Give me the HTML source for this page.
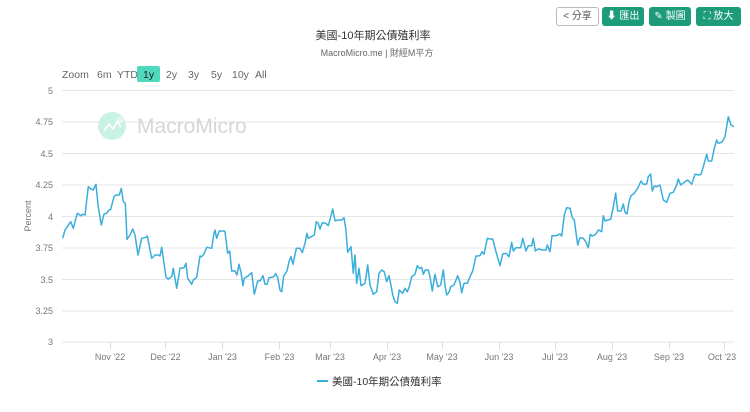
<!DOCTYPE html>
<html><head><meta charset="utf-8">
<style>
html,body{margin:0;padding:0;background:#fff;}
body{width:750px;height:412px;overflow:hidden;position:relative;font-family:"Liberation Sans","Noto Sans CJK TC",sans-serif;}
.btn{position:absolute;top:7px;height:19px;border-radius:3px;font-size:10px;line-height:19px;text-align:center;box-sizing:border-box;color:#fff;background:#1d9b7b;}
.btn.w{background:#fff;border:1px solid #bbb;color:#555;line-height:17px;}
</style></head><body>
<div class="btn w" style="left:556px;width:43px;">&lt; 分享</div>
<div class="btn" style="left:602px;width:42px;">⬇ 匯出</div>
<div class="btn" style="left:649px;width:42px;">✎ 製圖</div>
<div class="btn" style="left:696px;width:45px;">⛶ 放大</div>
<svg width="750" height="412" style="position:absolute;left:0;top:0" xmlns="http://www.w3.org/2000/svg" font-family="Liberation Sans, Noto Sans CJK TC, sans-serif">
<text x="373" y="39" text-anchor="middle" font-size="11" fill="#333">美國-10年期公債殖利率</text>
<text x="377" y="56" text-anchor="middle" font-size="9" fill="#666">MacroMicro.me | 財經M平方</text>
<rect x="137" y="66" width="23" height="16" rx="2" fill="#4fd9bd"/>
<g font-size="10.5" fill="#666">
<text x="62" y="78">Zoom</text>
<text x="97" y="78">6m</text>
<text x="117" y="78">YTD</text>
<text x="143" y="78" fill="#222">1y</text>
<text x="166" y="78">2y</text>
<text x="188" y="78">3y</text>
<text x="211" y="78">5y</text>
<text x="232" y="78">10y</text>
<text x="255" y="78">All</text>
</g>
<g stroke="#e6e6e6" stroke-width="1">
<line x1="62" x2="734" y1="90.5" y2="90.5"/>
<line x1="62" x2="734" y1="122" y2="122"/>
<line x1="62" x2="734" y1="153.5" y2="153.5"/>
<line x1="62" x2="734" y1="185" y2="185"/>
<line x1="62" x2="734" y1="216.5" y2="216.5"/>
<line x1="62" x2="734" y1="248" y2="248"/>
<line x1="62" x2="734" y1="279.5" y2="279.5"/>
<line x1="62" x2="734" y1="311" y2="311"/>
<line x1="62" x2="734" y1="342" y2="342"/>
</g>
<g stroke="#ddd" stroke-width="1">
<line x1="110.5" x2="110.5" y1="342" y2="349"/>
<line x1="165.5" x2="165.5" y1="342" y2="349"/>
<line x1="222.5" x2="222.5" y1="342" y2="349"/>
<line x1="279.5" x2="279.5" y1="342" y2="349"/>
<line x1="330.5" x2="330.5" y1="342" y2="349"/>
<line x1="387.5" x2="387.5" y1="342" y2="349"/>
<line x1="442.5" x2="442.5" y1="342" y2="349"/>
<line x1="499.5" x2="499.5" y1="342" y2="349"/>
<line x1="555.5" x2="555.5" y1="342" y2="349"/>
<line x1="612.5" x2="612.5" y1="342" y2="349"/>
<line x1="669.5" x2="669.5" y1="342" y2="349"/>
<line x1="724.5" x2="724.5" y1="342" y2="349"/>
</g>
<g font-size="9" fill="#777" text-anchor="end">
<text x="53" y="94">5</text>
<text x="53" y="125">4.75</text>
<text x="53" y="157">4.5</text>
<text x="53" y="188">4.25</text>
<text x="53" y="220">4</text>
<text x="53" y="251">3.75</text>
<text x="53" y="283">3.5</text>
<text x="53" y="314">3.25</text>
<text x="53" y="345">3</text>
</g>
<text transform="translate(31,216) rotate(-90)" text-anchor="middle" font-size="9" fill="#777">Percent</text>
<g font-size="9" fill="#777" text-anchor="middle">
<text x="110" y="360">Nov '22</text>
<text x="165.5" y="360">Dec '22</text>
<text x="222.5" y="360">Jan '23</text>
<text x="279.5" y="360">Feb '23</text>
<text x="330" y="360">Mar '23</text>
<text x="387" y="360">Apr '23</text>
<text x="442" y="360">May '23</text>
<text x="499" y="360">Jun '23</text>
<text x="555" y="360">Jul '23</text>
<text x="612" y="360">Aug '23</text>
<text x="669" y="360">Sep '23</text>
<text x="722" y="360">Oct '23</text>
</g>
<circle cx="112" cy="126" r="14" fill="#c9f1e6"/>
<polyline points="104,131 109,124 113,129 117,122 121,127" fill="none" stroke="#fff" stroke-width="1.6"/>
<circle cx="120" cy="120" r="2" fill="none" stroke="#fff" stroke-width="1.2"/>
<text x="137" y="133" font-size="21" fill="#d6d6d6">MacroMicro</text>
<polyline fill="none" stroke="#3aaedb" stroke-width="1.5" stroke-linejoin="round" points="
62.7,238.3 65,230 67.3,226.7 70.7,221.7 73.3,228.3 77.3,213.3 80.7,215.7 82.7,214.3 85,215 88.3,186.7 90.7,189 93.3,190 96,184.3 98,205 101.3,225 104,214 106.7,213.3 109,210 110.7,209.3 114,196.7 116,195 119.3,195 121.3,188.3 123.3,201.7 125.3,203.3 127,239.3 130,235 132.7,229 135,235 138,255 141.7,238.3 146,237.3 147.3,236 151.7,258.3 155,255 158.3,255 160,256 161.7,247.3 166,277.3 168.3,279 171.7,276.7 173.3,268.3 176.7,288.3 180,268.3 184,267.7 186,263.3 187.7,278.3 191.7,284.3 193.3,280 196.7,277.3 200,256 201.7,256.7 204,254 206.7,247.3 211.7,248.3 214,233.3 215,230 216.7,238.3 219.3,231 224,231 225,231.7 227.7,253.3 229.7,251 231.7,271 235,271 237,275 239,264.3 241,272.3 243,285.7 244.3,278.3 248.3,275.7 251.7,272.7 254.3,294.3 257.7,281 260.3,280.7 263,275.7 265,284.3 267,284.3 269,277.7 273.3,277 275.7,273.7 277.7,277.7 280,290 281.7,291.7 283.7,276 287,271 289,261.7 291,256.7 293,264.3 296.3,248.3 300,248.3 302.3,252.7 305,243.3 307,233.3 308.3,238.3 314.3,235 316.3,221.7 318.3,223.3 320,229 322.3,222.7 325.7,223.3 328.3,225.7 331,215.7 332.7,209 335,220.7 339,220 341.7,220 344,217.7 345.7,228.3 347.7,252.3 351,246.7 353.3,273.3 355,255 356.7,283.3 359,268.3 361,285.7 365,283.3 367.7,265 370,285 373.3,294.3 376.7,291.7 379,273.3 381.7,270 384.3,271.7 386.7,281.7 389,275.7 391.7,289 392.7,295 395,301.7 397.3,303.3 399.3,290 402.7,293.3 405,288.3 407.3,291.7 409.3,286.7 411.7,276.7 415,274.3 417.3,265.7 419.3,268.3 421.7,267.3 423.3,274.3 425.3,270 428.3,270 430,276.7 432.3,291 435,274.3 437.7,286.7 440.7,285 443.3,270 445,285.7 446.7,295 449.3,291.7 450.7,286.7 454,285 457.7,275.7 460,282.3 461.7,292.7 464,283.3 467.3,283.3 470,276.7 472.7,271 476,256 480,255.7 482,251.7 484,254.3 487.3,238.3 490,239 492.7,239 496,251.7 500,265.7 502.7,254 506,253.3 509,256.7 511.7,242.3 513.3,251 516,247.7 520.7,247.7 522.7,238.3 526,251 528.3,245.7 531.7,245.7 533.3,238.3 535.3,251 538.3,249 542.7,250 546,250 547.3,245 550,251.7 552,235.7 556,235.7 557.7,235 560,234 561.7,236 564.3,215 566.7,207.7 570,208.3 572.3,217.7 574.3,220 577.7,245 580,237.7 583.3,238.3 585.7,241.7 588.3,247.7 590.3,234.3 592.3,236 595.7,234.3 598.3,230 600.7,231 601.7,231.7 603.3,215.7 605,221 607.7,220 610.7,219.3 613.3,206.7 615.7,193.3 617.7,211 621,211 623.3,204 625,212.3 627,214 629,201.7 631,195.7 634.3,193.3 637.7,188.3 641,181 643.3,184.3 646.7,184 648.3,176.7 650.7,174 652.3,191 654.3,186 656.7,186.7 660,185 663.3,200 666.7,202.3 670,193.3 673.3,192.3 676.7,185 678.3,179 680.7,185 684.3,182.3 687.7,180 691.7,184.3 695,174.3 699,175 701,174.3 703.3,166.7 706.7,154.3 708.3,161 711.7,161 714.3,148.3 716.7,140 718.3,143.3 721.7,142.3 725,136.7 728.3,116.7 731,125 734,126.7"/>
<line x1="317" x2="328" y1="381" y2="381" stroke="#3aaedb" stroke-width="2"/>
<text x="332" y="385" font-size="10.5" fill="#333">美國-10年期公債殖利率</text>
</svg>
</body></html>
